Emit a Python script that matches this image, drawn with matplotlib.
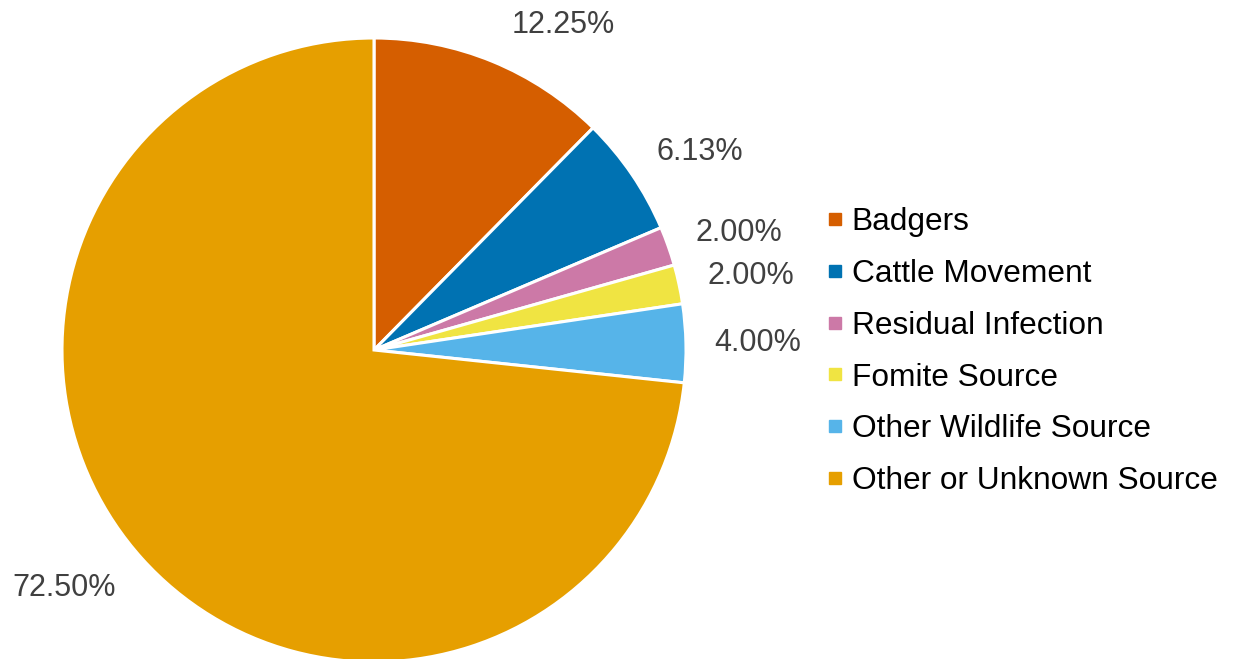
import matplotlib
matplotlib.use("Agg")
import matplotlib.pyplot as plt
from matplotlib.lines import Line2D

plt.rcParams['font.family'] = ['Liberation Sans', 'DejaVu Sans']

categories = ["Badgers", "Cattle Movement", "Residual Infection",
              "Fomite Source", "Other Wildlife Source", "Other or Unknown Source"]
shares = [12.25, 6.13, 2.00, 2.00, 4.00, 72.50]
colors = ["#D55E00", "#0072B2", "#CC79A7", "#F0E442", "#56B4E9", "#E69F00"]

# label anchor points (pie radius = 1, centre at origin)
label_xy = [(0.606, 1.042), (1.045, 0.635), (1.170, 0.375),
            (1.208, 0.237), (1.231, 0.022), (-0.993, -0.763)]

W, H, DPI = 1235, 659, 100
fig = plt.figure(figsize=(W / DPI, H / DPI), dpi=DPI)
ax = fig.add_axes([0, 0, 1, 1])

cx, cy, r = 374, 350, 312
ax.pie(shares, colors=colors, startangle=90, counterclock=False,
       radius=1, center=(0, 0),
       wedgeprops=dict(edgecolor="white", linewidth=2.2))
ax.set_aspect("auto")
ax.set_xlim((0 - cx) / r, (W - cx) / r)
ax.set_ylim((cy - H) / r, cy / r)
ax.axis("off")

for v, (x, y) in zip(shares, label_xy):
    ax.text(x, y, f"{v:.2f}%", ha="center", va="center",
            fontsize=22, color="#404040")

handles = [Line2D([], [], marker="s", linestyle="", markersize=8.5,
                  markerfacecolor=c, markeredgecolor=c) for c in colors]
leg = fig.legend(handles, categories, loc="upper left",
                 bbox_to_anchor=(828 / W, 1 - 207 / H),
                 frameon=False, fontsize=22.8, labelspacing=0.69,
                 handlelength=0.45, handletextpad=0.3, borderpad=0,
                 borderaxespad=0)
for t in leg.get_texts():
    t.set_color("black")

fig.savefig("out.png", dpi=DPI)
